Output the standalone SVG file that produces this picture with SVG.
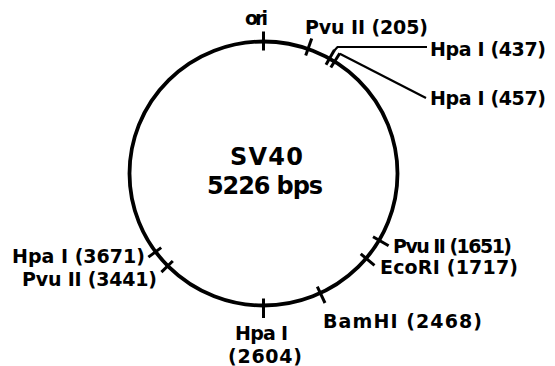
<svg xmlns="http://www.w3.org/2000/svg" width="555" height="366" viewBox="0 0 555 366">
<style>
.lbl{font-family:"DejaVu Sans","Liberation Sans",sans-serif;font-weight:bold;font-size:19px;fill:#000}
.big{font-size:24px}
.tick{stroke:#000;stroke-width:3;stroke-linecap:butt;fill:none}
.lead{stroke:#000;stroke-width:2.2;fill:none}
</style>
<rect width="555" height="366" fill="#fff"/>
<g id="plasmid">
<ellipse cx="263.5" cy="173.5" rx="134" ry="132" fill="none" stroke="#000" stroke-width="3.8"/>
<text class="lbl big" x="230" y="165" textLength="73">SV40</text>
<text class="lbl big" x="207" y="194" textLength="116">5226 bps</text>
</g>
<g id="ori">
<line class="tick" x1="263.5" y1="50.5" x2="263.5" y2="31.5"/>
<text class="lbl" x="245" y="25" font-size="17" textLength="23">ori</text>
</g>
<g id="pvu205">
<line class="tick" x1="305.7" y1="55.6" x2="311.7" y2="38.6"/>
<text class="lbl" x="305" y="33.5" textLength="123">Pvu II (205)</text>
</g>
<g id="hpa437">
<line class="tick" x1="326" y1="64.7" x2="334.4" y2="49.9"/>
<text class="lbl" x="430" y="55.5" textLength="116">Hpa I (437)</text>
</g>
<g id="hpa457">
<line class="tick" x1="330.8" y1="67.5" x2="339.8" y2="53.2"/>
<text class="lbl" x="430" y="104.5" textLength="116">Hpa I (457)</text>
</g>
<g id="pvu1651">
<line class="tick" x1="373" y1="236.7" x2="388.6" y2="245.8"/>
<text class="lbl" x="393" y="252.5" textLength="119">Pvu II (1651)</text>
</g>
<g id="eco1717">
<line class="tick" x1="360.7" y1="253.8" x2="374.5" y2="265.4"/>
<text class="lbl" x="380" y="274" textLength="138">EcoRI (1717)</text>
</g>
<g id="bam2468">
<line class="tick" x1="317.3" y1="286.7" x2="325" y2="303"/>
<text class="lbl" x="323" y="327.5" textLength="159">BamHI (2468)</text>
</g>
<g id="hpa2604">
<line class="tick" x1="263.5" y1="298.5" x2="263.5" y2="318"/>
<text class="lbl" x="235" y="340" textLength="53">Hpa I</text>
<text class="lbl" x="228" y="362.5" textLength="74">(2604)</text>
</g>
<g id="pvu3441">
<line class="tick" x1="172.8" y1="261" x2="161.4" y2="272.1"/>
<text class="lbl" x="22" y="285.5" textLength="135">Pvu II (3441)</text>
</g>
<g id="hpa3671">
<line class="tick" x1="161.2" y1="247.6" x2="148.4" y2="257.1"/>
<text class="lbl" x="12" y="262.5" textLength="133">Hpa I (3671)</text>
</g>
<g id="connectors">
<polyline class="lead" points="334.4,50.5 337.5,47 427,47"/>
<line class="lead" x1="339.8" y1="53.8" x2="426" y2="98"/>
</g>
</svg>
